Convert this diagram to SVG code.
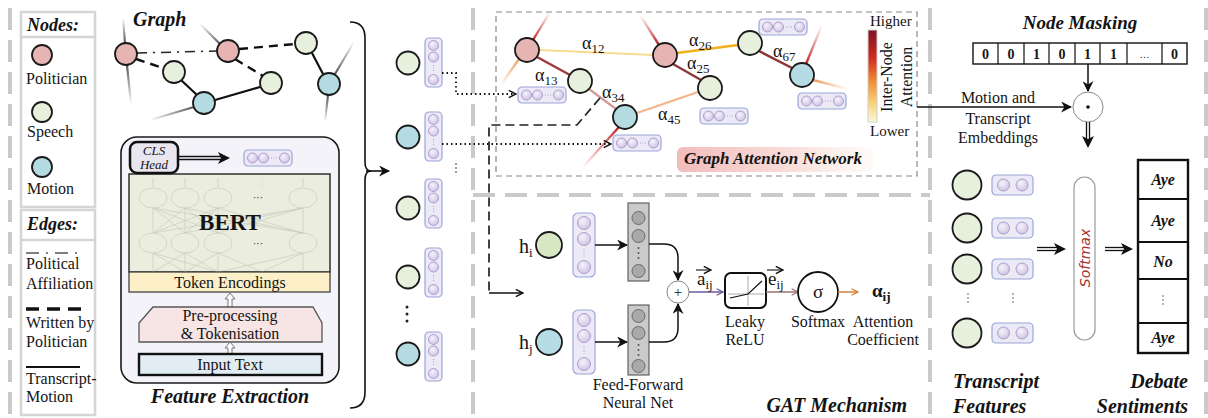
<svg xmlns="http://www.w3.org/2000/svg" width="1208" height="418" viewBox="0 0 1208 418">
<defs>
<style>
text{font-family:"Liberation Serif","Times New Roman",serif;fill:#141414}
.t16{font-size:16px}
.t15{font-size:15px}
.bi{font-weight:bold;font-style:italic}
.mid{text-anchor:middle}
.sep{stroke:#c9c9c9;stroke-width:4;stroke-dasharray:22 10;fill:none}
.pol{fill:#e6b5b3;stroke:#1a1a1a;stroke-width:1.8}
.spe{fill:#e7f0dc;stroke:#1a1a1a;stroke-width:1.8}
.mot{fill:#b4dae2;stroke:#1a1a1a;stroke-width:1.8}
.pill{fill:#edeaf7;stroke:#9ba5d8;stroke-width:1.2}
.nc{fill:url(#ncg);stroke:#a597c8;stroke-width:0.9}
.gc{fill:#a9a9a9;stroke:#6a6a6a;stroke-width:1}
.lg{fill:#fff;stroke:#d5d5d5;stroke-width:2.5}
.bn{fill:none;stroke:#c9cbbd;stroke-width:0.7}
.dot{fill:none;stroke:#111;stroke-width:1.8;stroke-dasharray:1.5 3}
.hol{fill:#fff;stroke:#777;stroke-width:1}
</style>
<radialGradient id="ncg" cx="0.4" cy="0.35" r="0.7">
<stop offset="0" stop-color="#f6f2fb"/><stop offset="1" stop-color="#cdc2e3"/>
</radialGradient>
<linearGradient id="cbar" x1="0" y1="0" x2="0" y2="1">
<stop offset="0" stop-color="#7d1424"/><stop offset="0.3" stop-color="#d02a22"/><stop offset="0.55" stop-color="#f08a30"/><stop offset="0.8" stop-color="#f8d478"/><stop offset="1" stop-color="#fdf7dc"/>
</linearGradient>
<linearGradient id="ganbg" x1="0" y1="0" x2="1" y2="0">
<stop offset="0" stop-color="#f0b4b4" stop-opacity="0.9"/><stop offset="0.6" stop-color="#f8d6d0" stop-opacity="0.8"/><stop offset="1" stop-color="#fdeee8" stop-opacity="0.3"/>
</linearGradient>
<linearGradient id="g1" gradientUnits="userSpaceOnUse" x1="125" y1="43" x2="123" y2="18"><stop offset="0" stop-color="#555"/><stop offset="1" stop-color="#555" stop-opacity="0"/></linearGradient>
<linearGradient id="g2" gradientUnits="userSpaceOnUse" x1="127" y1="65" x2="131" y2="104"><stop offset="0" stop-color="#555"/><stop offset="1" stop-color="#555" stop-opacity="0"/></linearGradient>
<linearGradient id="g3" gradientUnits="userSpaceOnUse" x1="220" y1="44" x2="200" y2="24"><stop offset="0" stop-color="#555"/><stop offset="1" stop-color="#555" stop-opacity="0"/></linearGradient>
<linearGradient id="g4" gradientUnits="userSpaceOnUse" x1="194" y1="107" x2="150" y2="120"><stop offset="0" stop-color="#555"/><stop offset="1" stop-color="#555" stop-opacity="0"/></linearGradient>
<linearGradient id="g5" gradientUnits="userSpaceOnUse" x1="335" y1="74" x2="354" y2="42"><stop offset="0" stop-color="#555"/><stop offset="1" stop-color="#555" stop-opacity="0"/></linearGradient>
<linearGradient id="g6" gradientUnits="userSpaceOnUse" x1="328" y1="95" x2="325" y2="122"><stop offset="0" stop-color="#555"/><stop offset="1" stop-color="#555" stop-opacity="0"/></linearGradient>
<linearGradient id="c1" gradientUnits="userSpaceOnUse" x1="533" y1="40" x2="550" y2="12"><stop offset="0" stop-color="#c02424"/><stop offset="1" stop-color="#e04040" stop-opacity="0"/></linearGradient>
<linearGradient id="c2" gradientUnits="userSpaceOnUse" x1="519" y1="59" x2="500" y2="86"><stop offset="0" stop-color="#f0a060"/><stop offset="1" stop-color="#f0a060" stop-opacity="0"/></linearGradient>
<linearGradient id="c3" gradientUnits="userSpaceOnUse" x1="659" y1="45" x2="640" y2="15"><stop offset="0" stop-color="#a82020"/><stop offset="1" stop-color="#e04040" stop-opacity="0"/></linearGradient>
<linearGradient id="c4" gradientUnits="userSpaceOnUse" x1="619" y1="127" x2="582" y2="168"><stop offset="0" stop-color="#b82020"/><stop offset="1" stop-color="#e04040" stop-opacity="0"/></linearGradient>
<linearGradient id="c5" gradientUnits="userSpaceOnUse" x1="806" y1="64" x2="822" y2="25"><stop offset="0" stop-color="#c02020"/><stop offset="1" stop-color="#e04040" stop-opacity="0"/></linearGradient>
<linearGradient id="c6" gradientUnits="userSpaceOnUse" x1="813" y1="80" x2="848" y2="89"><stop offset="0" stop-color="#f09a60"/><stop offset="1" stop-color="#f0a060" stop-opacity="0"/></linearGradient>
<marker id="mf" viewBox="0 0 10 10" refX="9" refY="5" markerWidth="11" markerHeight="11" markerUnits="userSpaceOnUse" orient="auto"><path d="M0,0 L10,5 L0,10 L3,5 z" fill="#111"/></marker>
<marker id="mo" viewBox="0 0 10 10" refX="9" refY="5" markerWidth="9" markerHeight="9" markerUnits="userSpaceOnUse" orient="auto"><path d="M1,1 L9,5 L1,9" fill="none" stroke="#111" stroke-width="1.6"/></marker>
<marker id="mp" viewBox="0 0 10 10" refX="9" refY="5" markerWidth="8" markerHeight="8" markerUnits="userSpaceOnUse" orient="auto"><path d="M1,1 L9,5 L1,9" fill="none" stroke="#6a5a9e" stroke-width="1.5"/></marker>
<marker id="mb" viewBox="0 0 10 10" refX="9" refY="5" markerWidth="8" markerHeight="8" markerUnits="userSpaceOnUse" orient="auto"><path d="M1,1 L9,5 L1,9" fill="none" stroke="#a07272" stroke-width="1.5"/></marker>
<marker id="mr" viewBox="0 0 10 10" refX="9" refY="5" markerWidth="8" markerHeight="8" markerUnits="userSpaceOnUse" orient="auto"><path d="M1,1 L9,5 L1,9" fill="none" stroke="#d08038" stroke-width="1.5"/></marker>
<g id="vpill">
<rect x="0" y="0" width="17" height="49" rx="4" class="pill"/>
<circle cx="8.5" cy="7.5" r="5" class="nc"/><circle cx="8.5" cy="19" r="5" class="nc"/>
<line x1="8.5" y1="27" x2="8.5" y2="34" stroke="#a597c8" stroke-width="0.9" stroke-dasharray="1 1.5"/>
<circle cx="8.5" cy="41.5" r="5" class="nc"/>
</g>
<g id="hpill">
<rect x="0" y="0" width="48" height="16" rx="4" class="pill"/>
<circle cx="8.5" cy="8" r="5" class="nc"/><circle cx="19.5" cy="8" r="5" class="nc"/>
<line x1="27" y1="8" x2="33" y2="8" stroke="#a597c8" stroke-width="0.9" stroke-dasharray="1 1.5"/>
<circle cx="40.5" cy="8" r="5" class="nc"/>
</g>
<g id="vpill2">
<rect x="0" y="0" width="22" height="64" rx="5" class="pill"/>
<circle cx="11" cy="10" r="6.5" class="nc"/><circle cx="11" cy="26" r="6.5" class="nc"/>
<line x1="11" y1="36" x2="11" y2="44" stroke="#a597c8" stroke-width="0.9" stroke-dasharray="1 1.5"/>
<circle cx="11" cy="54" r="6.5" class="nc"/>
</g>
<g id="tpill">
<rect x="0" y="0" width="41" height="20" rx="4" class="pill"/>
<circle cx="11.5" cy="10" r="6" class="nc"/><circle cx="30" cy="10" r="6" class="nc"/>
</g>
</defs>

<rect x="0" y="0" width="1208" height="418" fill="#fff"/>

<g id="separators">
<line x1="10" y1="8" x2="10" y2="418" class="sep"/>
<line x1="473" y1="8" x2="473" y2="418" class="sep"/>
<line x1="930" y1="8" x2="930" y2="418" class="sep"/>
<line x1="1206" y1="8" x2="1206" y2="418" class="sep"/>
<line x1="473" y1="195" x2="930" y2="195" class="sep"/>
</g>

<g id="legend">
<rect x="21" y="12" width="74" height="195" class="lg"/>
<line x1="21" y1="37" x2="95" y2="37" stroke="#d5d5d5" stroke-width="2.5"/>
<text x="27" y="31" class="bi" font-size="18">Nodes:</text>
<circle cx="42" cy="55" r="10" class="pol"/>
<text x="26" y="84" class="t16">Politician</text>
<circle cx="42" cy="112" r="10" class="spe"/>
<text x="27" y="137" class="t16">Speech</text>
<circle cx="42" cy="167" r="10" class="mot"/>
<text x="27" y="194" class="t16">Motion</text>
<rect x="21" y="210" width="74" height="205" class="lg"/>
<line x1="21" y1="240" x2="95" y2="240" stroke="#d5d5d5" stroke-width="2.5"/>
<text x="27" y="230" class="bi" font-size="18">Edges:</text>
<line x1="26" y1="253" x2="84" y2="253" stroke="#555" stroke-width="1.6" stroke-dasharray="13 7 2 7"/>
<text x="26" y="269" class="t16">Political</text>
<text x="26" y="289" class="t16">Affiliation</text>
<line x1="26" y1="309" x2="84" y2="309" stroke="#111" stroke-width="3.5" stroke-dasharray="13 8"/>
<text x="26" y="328" class="t16">Written by</text>
<text x="26" y="347" class="t16">Politician</text>
<line x1="26" y1="367" x2="80" y2="367" stroke="#111" stroke-width="2"/>
<text x="26" y="384" class="t16">Transcript-</text>
<text x="26" y="402" class="t16">Motion</text>
</g>

<g id="graph">
<text x="133" y="26" class="bi" font-size="20">Graph</text>
<g stroke-width="2.2" fill="none">
<line x1="125" y1="43" x2="123" y2="18" stroke="url(#g1)"/>
<line x1="127" y1="65" x2="131" y2="104" stroke="url(#g2)"/>
<line x1="220" y1="44" x2="200" y2="24" stroke="url(#g3)"/>
<line x1="194" y1="107" x2="150" y2="120" stroke="url(#g4)"/>
<line x1="335" y1="74" x2="354" y2="42" stroke="url(#g5)"/>
<line x1="328" y1="95" x2="325" y2="122" stroke="url(#g6)"/>
</g>
<line x1="137" y1="53" x2="217" y2="51" stroke="#222" stroke-width="1.5" stroke-dasharray="10 6 2 6"/>
<g stroke="#111" stroke-width="2.4" stroke-dasharray="9 6">
<line x1="239" y1="49" x2="295" y2="44"/>
<line x1="136" y1="59" x2="163" y2="68"/>
<line x1="235" y1="59" x2="263" y2="76"/>
</g>
<g stroke="#111" stroke-width="2.2">
<line x1="181" y1="80" x2="197" y2="95"/>
<line x1="215" y1="100" x2="260" y2="87"/>
<line x1="312" y1="53" x2="323" y2="74"/>
</g>
<g id="g-p1"><circle cx="126" cy="54" r="11" class="pol"/></g>
<g id="g-p2"><circle cx="228" cy="51" r="11" class="pol"/></g>
<g id="g-s1"><circle cx="174" cy="72" r="11" class="spe"/></g>
<g id="g-s2"><circle cx="271" cy="83" r="11" class="spe"/></g>
<g id="g-s3"><circle cx="306" cy="43" r="11" class="spe"/></g>
<g id="g-m1"><circle cx="204" cy="103" r="11" class="mot"/></g>
<g id="g-m2"><circle cx="329" cy="84" r="11" class="mot"/></g>
</g>

<g id="feature-extraction">
<rect x="121" y="137" width="218" height="246" rx="16" fill="#f4f3f9" stroke="#1a1a1a" stroke-width="1.6"/>
<g id="bert">
<rect x="129" y="174" width="201" height="98" fill="#ebeddf" stroke="#222" stroke-width="1.4"/>
<g class="bn">
<line x1="153" y1="187" x2="153" y2="178"/><line x1="185" y1="187" x2="185" y2="178"/><line x1="218" y1="187" x2="218" y2="178"/><line x1="303" y1="187" x2="303" y2="178"/>
<line x1="262" y1="178" x2="262" y2="190" stroke-dasharray="1 2"/>
<ellipse cx="153" cy="198" rx="14" ry="10"/><ellipse cx="185" cy="198" rx="14" ry="10"/><ellipse cx="218" cy="198" rx="14" ry="10"/><ellipse cx="303" cy="198" rx="14" ry="10"/>
<ellipse cx="153" cy="243" rx="14" ry="10"/><ellipse cx="185" cy="243" rx="14" ry="10"/><ellipse cx="218" cy="243" rx="14" ry="10"/><ellipse cx="303" cy="243" rx="14" ry="10"/>
<path d="M153,233 L153,208 M153,233 L185,208 M153,233 L218,208 M153,233 L303,208 M185,233 L153,208 M185,233 L185,208 M185,233 L218,208 M185,233 L303,208 M218,233 L153,208 M218,233 L185,208 M218,233 L218,208 M218,233 L303,208 M303,233 L153,208 M303,233 L185,208 M303,233 L218,208 M303,233 L303,208"/>
<path d="M153,253 L153,272 M153,253 L185,272 M153,253 L218,272 M185,253 L153,272 M185,253 L185,272 M185,253 L218,272 M218,253 L185,272 M218,253 L218,272 M218,253 L262,272 M303,253 L303,272 M303,253 L262,272 M303,253 L218,272"/>
</g>
<text x="258" y="201" font-size="10" fill="#c9cbbd" class="mid">···</text>
<text x="258" y="247" font-size="10" fill="#c9cbbd" class="mid">···</text>
<text x="230" y="230" class="mid" font-size="23" font-weight="bold">BERT</text>
</g>
<g id="cls-head">
<rect x="130" y="142" width="48" height="31" rx="7" fill="#e9e6f0" stroke="#111" stroke-width="2.5"/>
<text x="154" y="155" class="mid" font-size="13" font-style="italic" fill="#444">CLS</text>
<text x="154" y="169" class="mid" font-size="13" font-style="italic" fill="#444">Head</text>
</g>
<g id="cls-arrow">
<line x1="178" y1="156.5" x2="222" y2="156.5" stroke="#111" stroke-width="1.4"/>
<line x1="178" y1="159.5" x2="222" y2="159.5" stroke="#111" stroke-width="1.4"/>
<path d="M218,152 L230,158 L218,164 L221,158 z" fill="#111"/>
</g>
<use href="#hpill" x="244" y="150"/>
<g id="token-enc">
<rect x="129" y="272" width="201" height="20" fill="#fdf0c8" stroke="#444" stroke-width="1.3"/>
<text x="230" y="288" class="mid t16">Token Encodings</text>
</g>
<path d="M230,293 L235,299 L232,299 L232,307 L228,307 L228,299 L225,299 z" class="hol"/>
<g id="preproc">
<path d="M153,307 L313,307 L322,323 L322,342 L139,342 L139,323 z" fill="#f7e4e4" stroke="#555" stroke-width="1.3"/>
<text x="230" y="321" class="mid t16">Pre-processing</text>
<text x="230" y="339" class="mid t16">&amp; Tokenisation</text>
</g>
<path d="M230,342 L235,348 L232,348 L232,354 L228,354 L228,348 L225,348 z" class="hol"/>
<g id="input-text">
<rect x="139" y="354" width="183" height="21" fill="#e2edf3" stroke="#111" stroke-width="2.4"/>
<text x="230" y="370" class="mid t16">Input Text</text>
</g>
<text x="230" y="403" class="mid bi" font-size="20">Feature Extraction</text>
</g>

<g id="brace">
<path d="M350,22 Q365,22 365,38 L365,162 Q365,171 371,171 Q365,171 365,180 L365,392 Q365,408 350,408" fill="none" stroke="#111" stroke-width="1.6"/>
<line x1="366" y1="171" x2="389" y2="171" stroke="#111" stroke-width="1.6" marker-end="url(#mf)"/>
</g>

<g id="embeddings">
<g id="e1"><circle cx="408" cy="63" r="11.5" class="spe"/><use href="#vpill" x="425" y="38"/></g>
<g id="e2"><circle cx="408" cy="137" r="11.5" class="mot"/><use href="#vpill" x="425" y="112"/></g>
<g id="e3"><circle cx="408" cy="208" r="11.5" class="spe"/><use href="#vpill" x="425" y="179"/></g>
<g id="e4"><circle cx="408" cy="277" r="11.5" class="spe"/><use href="#vpill" x="425" y="248"/></g>
<g id="e5"><circle cx="408" cy="354" r="11.5" class="mot"/><use href="#vpill" x="425" y="332"/></g>
<g fill="#222"><circle cx="456" cy="164" r="0.8"/><circle cx="456" cy="168" r="0.8"/><circle cx="456" cy="172" r="0.8"/>
<circle cx="407" cy="307" r="1.5"/><circle cx="407" cy="314" r="1.5"/><circle cx="407" cy="321" r="1.5"/></g>
</g>

<g id="gat-network">
<rect x="496" y="12" width="421" height="164" fill="none" stroke="#888" stroke-width="1.2" stroke-dasharray="6 4"/>
<rect x="677" y="147" width="196" height="25" rx="6" fill="url(#ganbg)"/>
<text x="773" y="164" class="mid bi" font-size="17" fill="#3a3a3a">Graph Attention Network</text>
<g stroke-width="2.4" fill="none">
<line x1="533" y1="40" x2="550" y2="12" stroke="url(#c1)"/>
<line x1="519" y1="59" x2="500" y2="86" stroke="url(#c2)"/>
<line x1="659" y1="45" x2="640" y2="15" stroke="url(#c3)"/>
<line x1="619" y1="127" x2="582" y2="168" stroke="url(#c4)"/>
<line x1="806" y1="64" x2="822" y2="25" stroke="url(#c5)"/>
<line x1="813" y1="80" x2="848" y2="89" stroke="url(#c6)"/>
</g>
<line x1="539" y1="50" x2="653" y2="55" stroke="#f6dc8e" stroke-width="2"/>
<line x1="677" y1="53" x2="738" y2="45" stroke="#f2b01e" stroke-width="2.6"/>
<line x1="537" y1="57" x2="570" y2="75" stroke="#9e3a3a" stroke-width="2.4"/>
<line x1="589" y1="89" x2="616" y2="109" stroke="#d49a9a" stroke-width="2.2"/>
<line x1="673" y1="64" x2="701" y2="80" stroke="#8c3a3a" stroke-width="2.4"/>
<line x1="637" y1="113" x2="698" y2="92" stroke="#f2b48a" stroke-width="2.2"/>
<line x1="759" y1="51" x2="792" y2="68" stroke="#8c3232" stroke-width="2.4"/>
<g id="n1"><circle cx="527" cy="50" r="12" class="pol"/></g>
<g id="n2"><circle cx="665" cy="55" r="12" class="pol"/></g>
<g id="n3"><circle cx="580" cy="81" r="12" class="spe"/></g>
<g id="n4"><circle cx="625" cy="117" r="12" class="mot"/></g>
<g id="n5"><circle cx="710" cy="88" r="12" class="spe"/></g>
<g id="n6"><circle cx="750" cy="43" r="12" class="spe"/></g>
<g id="n7"><circle cx="802" cy="75" r="12" class="mot"/></g>
<g font-size="18">
<text x="582" y="49">α<tspan font-size="13" dy="4">12</tspan></text>
<text x="689" y="46">α<tspan font-size="13" dy="4">26</tspan></text>
<text x="535" y="81">α<tspan font-size="13" dy="4">13</tspan></text>
<text x="687" y="69">α<tspan font-size="13" dy="4">25</tspan></text>
<text x="602" y="98">α<tspan font-size="13" dy="4">34</tspan></text>
<text x="658" y="120">α<tspan font-size="13" dy="4">45</tspan></text>
<text x="773" y="57">α<tspan font-size="13" dy="4">67</tspan></text>
</g>
<use href="#hpill" x="518" y="87"/>
<use href="#hpill" x="613" y="135"/>
<use href="#hpill" x="759" y="19"/>
<use href="#hpill" x="700" y="108"/>
<use href="#hpill" x="798" y="93"/>
<g id="colorbar">
<rect x="868" y="30" width="9" height="92" fill="url(#cbar)" stroke="#cfcfcf" stroke-width="1"/>
<text x="870" y="26" class="t15">Higher</text>
<text x="870" y="136" class="t15">Lower</text>
<text transform="rotate(-90 892 77)" x="892" y="77" class="mid t16">Inter-Node</text>
<text transform="rotate(-90 912 77)" x="912" y="77" class="mid t16">Attention</text>
</g>
</g>

<g id="connectors">
<path d="M442,73 H456 V94 H516" class="dot" marker-end="url(#mo)"/>
<path d="M442,144 H611" class="dot" marker-end="url(#mo)"/>
<path d="M600,98 L577,125 H489 V293" fill="none" stroke="#222" stroke-width="1.7" stroke-dasharray="9 5"/>
<line x1="489" y1="293" x2="523" y2="293" stroke="#111" stroke-width="1.5" marker-end="url(#mo)"/>
<line x1="917" y1="107" x2="1071" y2="107" stroke="#111" stroke-width="1.5" marker-end="url(#mf)"/>
<line x1="1088" y1="64" x2="1088" y2="91" stroke="#111" stroke-width="1.5" marker-end="url(#mf)"/>
<g id="dbl-down">
<line x1="1086.5" y1="122" x2="1086.5" y2="140" stroke="#111" stroke-width="1.3"/>
<line x1="1089.5" y1="122" x2="1089.5" y2="140" stroke="#111" stroke-width="1.3"/>
<path d="M1082,136 L1088,148 L1094,136 L1088,139 z" fill="#111"/>
</g>
<g id="dbl-1">
<line x1="1037" y1="247.5" x2="1057" y2="247.5" stroke="#111" stroke-width="1.3"/>
<line x1="1037" y1="250.5" x2="1057" y2="250.5" stroke="#111" stroke-width="1.3"/>
<path d="M1054,243 L1066,249 L1054,255 L1057,249 z" fill="#111"/>
</g>
<g id="dbl-2">
<line x1="1105" y1="247.5" x2="1124" y2="247.5" stroke="#111" stroke-width="1.3"/>
<line x1="1105" y1="250.5" x2="1124" y2="250.5" stroke="#111" stroke-width="1.3"/>
<path d="M1121,243 L1133,249 L1121,255 L1124,249 z" fill="#111"/>
</g>
</g>

<g id="gat-mechanism">
<text x="519" y="253" font-size="20">h<tspan font-size="13" dy="4">i</tspan></text>
<text x="519" y="349" font-size="20">h<tspan font-size="13" dy="4">j</tspan></text>
<g id="hi"><circle cx="549" cy="245" r="13" fill="#d8e8c4" stroke="#1a1a1a" stroke-width="1.8"/></g>
<g id="hj"><circle cx="549" cy="342" r="13" fill="#b6dce6" stroke="#1a1a1a" stroke-width="1.8"/></g>
<use href="#vpill2" x="573" y="213"/>
<use href="#vpill2" x="573" y="310"/>
<line x1="595" y1="245" x2="627" y2="245" stroke="#111" stroke-width="1.5" marker-end="url(#mf)"/>
<line x1="595" y1="342" x2="627" y2="342" stroke="#111" stroke-width="1.5" marker-end="url(#mf)"/>
<g id="ffn1">
<rect x="628" y="203" width="21" height="78" fill="#cacaca" stroke="#555" stroke-width="1.1"/>
<circle cx="638.5" cy="218" r="6.5" class="gc"/><circle cx="638.5" cy="236" r="6.5" class="gc"/>
<circle cx="638.5" cy="248" r="1" fill="#555"/><circle cx="638.5" cy="253" r="1" fill="#555"/><circle cx="638.5" cy="258" r="1" fill="#555"/>
<circle cx="638.5" cy="271" r="6.5" class="gc"/>
</g>
<g id="ffn2">
<rect x="628" y="305" width="21" height="70" fill="#cacaca" stroke="#555" stroke-width="1.1"/>
<circle cx="638.5" cy="316" r="6.5" class="gc"/><circle cx="638.5" cy="333" r="6.5" class="gc"/>
<circle cx="638.5" cy="345" r="1" fill="#555"/><circle cx="638.5" cy="350" r="1" fill="#555"/><circle cx="638.5" cy="355" r="1" fill="#555"/>
<circle cx="638.5" cy="366" r="6.5" class="gc"/>
</g>
<path d="M649,244 H664 Q678,244 678,258 V280" fill="none" stroke="#111" stroke-width="1.5" marker-end="url(#mf)"/>
<path d="M649,342 H664 Q678,342 678,328 V304" fill="none" stroke="#111" stroke-width="1.5" marker-end="url(#mf)"/>
<g id="plus"><circle cx="678" cy="292" r="11" fill="#fff" stroke="#888" stroke-width="1"/>
<text x="678" y="297" class="mid" font-size="15">+</text></g>
<line x1="689" y1="292" x2="723" y2="292" stroke="#6a5a9e" stroke-width="1.5" marker-end="url(#mp)"/>
<text x="697" y="285" font-size="19">a<tspan font-size="13" dy="4">ij</tspan></text>
<line x1="696" y1="270" x2="711" y2="270" stroke="#111" stroke-width="1.1" marker-end="url(#mo)"/>
<g id="relu">
<rect x="725" y="273" width="41" height="35" rx="6" fill="#fff" stroke="#111" stroke-width="2"/>
<line x1="748" y1="276" x2="748" y2="306" stroke="#aaa" stroke-width="1"/>
<line x1="728" y1="294" x2="764" y2="294" stroke="#aaa" stroke-width="1"/>
<path d="M730,298 L748,294 L762,281" fill="none" stroke="#111" stroke-width="1.2"/>
</g>
<text x="745" y="327" class="mid t16">Leaky</text>
<text x="745" y="345" class="mid t16">ReLU</text>
<line x1="766" y1="292" x2="798" y2="292" stroke="#a07272" stroke-width="1.5" marker-end="url(#mb)"/>
<text x="768" y="285" font-size="19">e<tspan font-size="13" dy="4">ij</tspan></text>
<line x1="767" y1="270" x2="783" y2="270" stroke="#111" stroke-width="1.1" marker-end="url(#mo)"/>
<g id="sigma"><circle cx="818" cy="292" r="20" fill="#fff" stroke="#111" stroke-width="1.8"/>
<text x="818" y="298" class="mid" font-size="19">σ</text></g>
<text x="818" y="327" class="mid t16">Softmax</text>
<line x1="838" y1="292" x2="858" y2="292" stroke="#d08038" stroke-width="1.5" marker-end="url(#mr)"/>
<text x="872" y="297" font-size="19" font-weight="bold">α<tspan font-size="13" dy="4">ij</tspan></text>
<text x="883" y="327" class="mid t16">Attention</text>
<text x="883" y="345" class="mid t16">Coefficient</text>
<text x="638" y="390" class="mid t16" fill="#333">Feed-Forward</text>
<text x="638" y="408" class="mid t16" fill="#333">Neural Net</text>
<text x="907" y="412" text-anchor="end" class="bi" font-size="20">GAT Mechanism</text>
</g>

<g id="node-masking">
<text x="1080" y="29" class="mid bi" font-size="19">Node Masking</text>
<rect x="973" y="43" width="214" height="21" fill="#fff" stroke="#111" stroke-width="1.4"/>
<path d="M998,43 V64 M1024,43 V64 M1049,43 V64 M1075,43 V64 M1100,43 V64 M1127,43 V64 M1162,43 V64" stroke="#111" stroke-width="1.2"/>
<g font-size="14" font-weight="bold" class="mid">
<text x="985.5" y="59" class="mid">0</text><text x="1011" y="59" class="mid">0</text><text x="1036.5" y="59" class="mid">1</text><text x="1062" y="59" class="mid">0</text><text x="1087.5" y="59" class="mid">1</text><text x="1113.5" y="59" class="mid">1</text><text x="1144.5" y="58" class="mid" font-weight="normal" font-size="10">…</text><text x="1174.5" y="59" class="mid">0</text>
</g>
<g id="hadamard"><circle cx="1088" cy="107" r="15" fill="#fff" stroke="#888" stroke-width="1"/><circle cx="1088" cy="107" r="1.8" fill="#111"/></g>
<text x="998" y="103" class="mid t16">Motion and</text>
<text x="998" y="124" class="mid t16">Transcript</text>
<text x="998" y="143" class="mid t16">Embeddings</text>
</g>

<g id="transcript-features">
<g id="t1"><circle cx="967" cy="185" r="14.5" class="spe" stroke-width="2"/><use href="#tpill" x="992" y="175"/></g>
<g id="t2"><circle cx="967" cy="228" r="14.5" class="spe" stroke-width="2"/><use href="#tpill" x="992" y="218"/></g>
<g id="t3"><circle cx="967" cy="269" r="14.5" class="spe" stroke-width="2"/><use href="#tpill" x="992" y="259"/></g>
<g id="t4"><circle cx="967" cy="333" r="14.5" class="spe" stroke-width="2"/><use href="#tpill" x="992" y="323"/></g>
<g fill="#555"><circle cx="968" cy="294" r="0.8"/><circle cx="968" cy="298" r="0.8"/><circle cx="968" cy="302" r="0.8"/>
<circle cx="1013" cy="294" r="0.8"/><circle cx="1013" cy="298" r="0.8"/><circle cx="1013" cy="302" r="0.8"/></g>
<text x="953" y="388" class="bi" font-size="20">Transcript</text>
<text x="953" y="413" class="bi" font-size="20">Features</text>
</g>

<g id="softmax">
<rect x="1074" y="177" width="21" height="163" rx="10.5" fill="#fff" stroke="#999" stroke-width="1.2"/>
<text transform="rotate(-90 1090 258)" x="1090" y="258" text-anchor="middle" font-style="italic" font-size="14" style="font-family:'DejaVu Sans','Liberation Sans',sans-serif;fill:#a83232">Softmax</text>
</g>

<g id="debate-sentiments">
<rect x="1138" y="160" width="50" height="193" fill="#fff" stroke="#111" stroke-width="2.4"/>
<path d="M1138,199 H1188 M1138,242 H1188 M1138,279 H1188 M1138,323 H1188" stroke="#111" stroke-width="2"/>
<g class="bi" font-size="16">
<text x="1163" y="185" class="mid">Aye</text>
<text x="1163" y="226" class="mid">Aye</text>
<text x="1163" y="267" class="mid">No</text>
<text x="1163" y="343" class="mid">Aye</text>
</g>
<g fill="#555"><circle cx="1163" cy="296" r="0.8"/><circle cx="1163" cy="300" r="0.8"/><circle cx="1163" cy="304" r="0.8"/></g>
<text x="1188" y="388" text-anchor="end" class="bi" font-size="20">Debate</text>
<text x="1188" y="413" text-anchor="end" class="bi" font-size="20">Sentiments</text>
</g>
</svg>
